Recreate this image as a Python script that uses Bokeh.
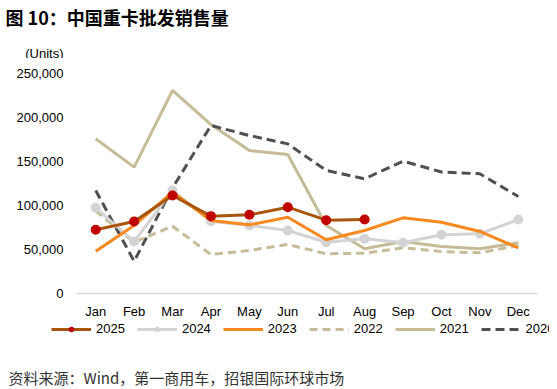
from bokeh.plotting import figure
from bokeh.layouts import column
from bokeh.models import Range1d, NumeralTickFormatter, Legend, LegendItem, Label, FactorRange
from bokeh.embed import file_html
from bokeh.resources import INLINE

months = ["Jan", "Feb", "Mar", "Apr", "May", "Jun", "Jul", "Aug", "Sep", "Oct", "Nov", "Dec"]
s2025 = [72400, 81800, 111400, 87900, 89400, 98100, 83300, 84100]
s2024 = [97400, 59100, 117000, 82200, 77300, 71600, 58300, 62100, 57600, 66700, 67800, 84100]
s2023 = [48100, 77300, 115100, 83000, 78000, 86700, 61000, 71600, 86000, 81000, 70500, 51900]
s2022 = [94000, 58300, 76500, 44300, 48900, 55700, 45100, 45800, 51900, 47700, 46200, 54500]
s2021 = [175800, 143600, 230700, 192000, 162500, 158000, 77300, 50800, 59100, 53400, 50800, 57600]
s2020 = [117000, 36700, 120000, 191000, 179500, 170000, 139800, 130300, 150400, 138100, 136000, 110200]
y_ticks = [0, 50000, 100000, 150000, 200000, 250000]

FONT = "Liberation Sans"
CJK = "Noto Sans CJK SC"
W = 549

STYLES = {
    "2025": dict(line_color="#A8560C", marker="#C00000", dash="solid"),
    "2024": dict(line_color="#D4D4D4", marker="#D4D4D4", dash="solid"),
    "2023": dict(line_color="#F7891F", marker=None, dash="solid"),
    "2022": dict(line_color="#C6BC98", marker=None, dash="8 5"),
    "2021": dict(line_color="#C6BC98", marker=None, dash="solid"),
    "2020": dict(line_color="#505050", marker=None, dash="9 5"),
}
series = {"2021": s2021, "2022": s2022, "2020": s2020, "2024": s2024, "2023": s2023, "2025": s2025}


def bare_fig(height):
    f = figure(width=W, height=height, x_range=FactorRange(*months, range_padding=0),
               y_range=Range1d(-2, -1), output_backend="svg", toolbar_location=None,
               x_axis_location=None, y_axis_location=None, frame_align=False,
               min_border_left=0, min_border_right=0, min_border_top=0, min_border_bottom=0)
    f.outline_line_color = None
    f.xgrid.grid_line_color = None
    f.ygrid.grid_line_color = None
    return f


# ---- header: title and units ----
top = bare_fig(58)
top.add_layout(Label(x=5, y=42, x_units="screen", y_units="screen",
                     text="图 10：中国重卡批发销售量", text_font=CJK, text_font_size="18px",
                     text_font_style="bold", text_color="#000000", text_baseline="middle"))
top.add_layout(Label(x=63, y=5, x_units="screen", y_units="screen", text="(Units)",
                     text_font=FONT, text_font_size="13px", text_color="#000000",
                     text_baseline="middle", text_align="right"))

# ---- main chart ----
p = figure(width=W, height=263, x_range=FactorRange(*months, range_padding=0),
           y_range=Range1d(0, 250000), output_backend="svg", toolbar_location=None,
           frame_align=False,
           min_border_left=76, min_border_right=12, min_border_top=15, min_border_bottom=28)
p.outline_line_color = None
p.xgrid.grid_line_color = None
p.ygrid.grid_line_color = None

p.yaxis.ticker = y_ticks
p.yaxis.formatter = NumeralTickFormatter(format="0,0")
p.yaxis.axis_line_color = None
p.yaxis.major_tick_line_color = None
p.yaxis.minor_tick_line_color = None
p.yaxis.major_tick_out = 0
p.yaxis.major_tick_in = 0
p.yaxis.major_label_text_font = FONT
p.yaxis.major_label_text_font_size = "13px"
p.yaxis.major_label_text_color = "#000000"
p.yaxis.major_label_standoff = 13

p.xaxis.axis_line_color = "#D9D9D9"
p.xaxis.axis_line_width = 1.5
p.xaxis.major_tick_line_color = None
p.xaxis.minor_tick_line_color = None
p.xaxis.major_tick_out = 0
p.xaxis.major_tick_in = 0
p.xaxis.major_label_text_font = FONT
p.xaxis.major_label_text_font_size = "13px"
p.xaxis.major_label_text_color = "#000000"
p.xaxis.major_label_standoff = 10

for name, vals in series.items():
    st = STYLES[name]
    xs = months[:len(vals)]
    p.line(xs, vals, line_color=st["line_color"], line_width=3, line_dash=st["dash"])
    if st["marker"]:
        p.scatter(xs, vals, size=10, fill_color=st["marker"], line_color=None)

# ---- footer: legend and source (legend samples come from the same series, out of view) ----
bot = bare_fig(66)
items = []
for name in ["2025", "2024", "2023", "2022", "2021", "2020"]:
    st = STYLES[name]
    vals = series[name]
    xs = months[:len(vals)]
    rs = [bot.line(xs, vals, line_color=st["line_color"], line_width=3, line_dash=st["dash"])]
    if st["marker"]:
        rs.append(bot.scatter(xs, vals, size=10, fill_color=st["marker"], line_color=None))
    items.append(LegendItem(label=name, renderers=rs))
legend = Legend(items=items, orientation="horizontal", glyph_width=40, glyph_height=14,
                label_text_font=FONT, label_text_font_size="13px", label_text_color="#000000",
                label_standoff=5, spacing=12, padding=0, margin=0, border_line_color=None,
                background_fill_alpha=0, location=(51, 51), label_height=14)
bot.add_layout(legend)
bot.add_layout(Label(x=8, y=10, x_units="screen", y_units="screen",
                     text="资料来源：Wind，第一商用车，招银国际环球市场", text_font=CJK,
                     text_font_size="15px", text_color="#333333", text_baseline="middle"))

layout = column(top, p, bot, spacing=0)
open("out.html", "w").write(file_html(layout, INLINE))
